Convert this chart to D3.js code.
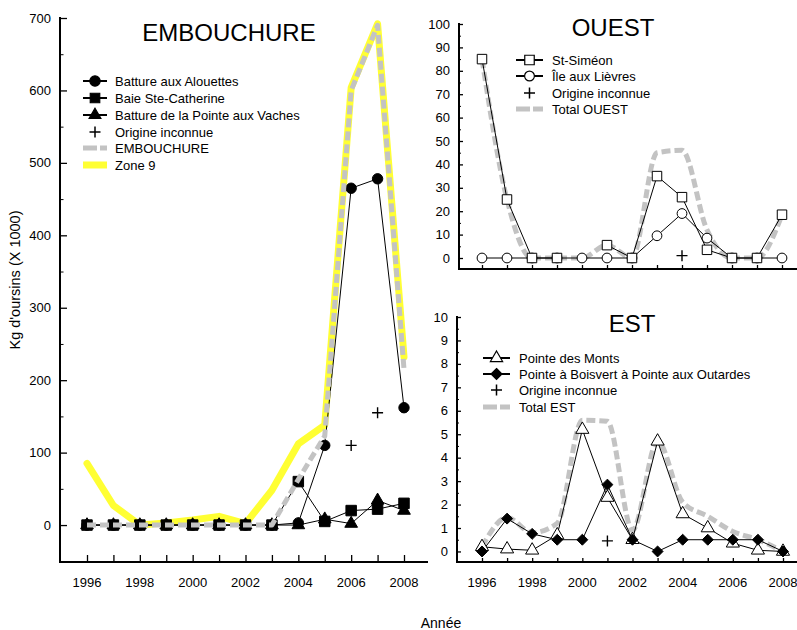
<!DOCTYPE html>
<html><head><meta charset="utf-8">
<script src="https://cdn.jsdelivr.net/npm/d3@7"></script>
<style>
body{margin:0;background:#fff;}
svg{font-family:"Liberation Sans",Arial,sans-serif;}
</style></head>
<body>
<svg id="c" width="797" height="630"></svg>
<script>
// ---------- DATA ----------
const years = [1996,1997,1998,1999,2000,2001,2002,2003,2004,2005,2006,2007,2008];
const yearTicks = [1996,1998,2000,2002,2004,2006,2008];

// EMBOUCHURE panel
const embTicks = [0,100,200,300,400,500,600,700];
const alouettes = [0,0,0,0,0,0,0,0,3,110,465,478,162];
const baieSteCatherine = [0,0,0,0,0,0,0,0,60,5,20,22,30];
const pointeAuxVaches = [0,0,0,0,0,0,0,0,0,8,2,34,20];
const embInconnue = [null,null,null,null,null,null,null,null,null,null,110,155,null];
const embTotal = [0,0,0,0,0,0,0,0,63,123,600,690,215];
const zone9 = [85,27,0,3,7,12,2,48,112,138,604,692,232];

// OUEST panel
const ouestTicks = [0,10,20,30,40,50,60,70,80,90,100];
const stSimeon = [85,25,0,0,null,5.5,0,35,26,3.5,0,0,18.5];
const ileAuxLievres = [0,0,0,0,0,0,0,9.5,19,8.5,0,0,0];
const ouestInconnue = [null,null,null,null,null,null,null,null,1,null,null,null,null];
const ouestTotal = [85,25,0,0,0,5.5,0,45,46,12,0,0,18.5];

// EST panel
const estTicks = [0,1,2,3,4,5,6,7,8,9,10];
const pointeDesMonts = [0.2,0.1,0.05,0.7,5.2,2.3,0.5,4.7,1.6,1.0,0.35,0.05,0];
const boisvertOutardes = [0,1.4,0.75,0.5,0.5,2.85,0.5,0,0.5,0.5,0.5,0.5,0];
const estInconnue = [null,null,null,null,null,0.45,null,null,null,null,null,null,null];
const estTotal = [0.2,1.45,0.8,1.2,5.6,5.55,0.9,4.7,2.1,1.5,0.85,0.5,0];

// ---------- DRAWING ----------
const svg = d3.select("#c");
const GRAY = "#c3c3c3", YEL = "#ffff33";

function zip(vals){ return years.map((y,i)=>({x:y,y:vals[i]})); }

function panel(opt){
  const g = svg.append("g");
  const x = d3.scaleLinear().domain([1996,2008]).range([opt.x0,opt.x1]);
  const y = d3.scaleLinear().domain(opt.yDom).range([opt.yBot,opt.yTop]);
  const ya = g.append("g").attr("transform",`translate(${opt.axX},0)`)
    .call(d3.axisRight(y).tickValues(opt.yTicks).tickSize(opt.yTick).tickFormat(""));
  ya.select(".domain").remove();
  ya.selectAll("line").attr("stroke","#000").attr("stroke-width",1.3);
  const ym = g.append("g").attr("transform",`translate(${opt.axX},0)`)
    .call(d3.axisRight(y).tickValues(opt.yMinor).tickSize(opt.yTick/2).tickFormat(""));
  ym.select(".domain").remove();
  ym.selectAll("line").attr("stroke","#000").attr("stroke-width",1);
  g.selectAll(".ylab").data(opt.yTicks).join("text")
    .attr("x",opt.axX-9).attr("y",d=>y(d)+4.5)
    .attr("text-anchor","end").attr("font-size",13).text(d=>d);
  g.append("line").attr("x1",opt.axX).attr("x2",opt.axX)
    .attr("y1",y(opt.yDom[1])-1).attr("y2",opt.yBot+1)
    .attr("stroke","#000").attr("stroke-width",2);
  const xa = g.append("g").attr("transform",`translate(0,${opt.yBot})`)
    .call(d3.axisTop(x).tickValues(years).tickSize(opt.xTick).tickFormat(""));
  xa.select(".domain").remove();
  xa.selectAll("line").attr("stroke","#000").attr("stroke-width",1.3);
  if(opt.xLabels){
    g.selectAll(".xlab").data(yearTicks).join("text")
      .attr("x",d=>x(d)).attr("y",opt.yBot+25)
      .attr("text-anchor","middle").attr("font-size",13).text(d=>d);
  }
  g.append("line").attr("x1",opt.axX-1).attr("x2",opt.xEnd)
    .attr("y1",opt.yBot).attr("y2",opt.yBot)
    .attr("stroke","#000").attr("stroke-width",2);
  g.append("text").attr("x",opt.titleX).attr("y",opt.titleY)
    .attr("text-anchor","middle").attr("font-size",24).text(opt.title);
  return {g,x,y};
}

function line(p, vals, o){
  const gen = d3.line().defined(d=>d.y!=null).x(d=>p.x(d.x)).y(d=>p.y(d.y));
  if(o.curve) gen.curve(o.curve);
  p.g.append("path").attr("d",gen(zip(vals))).attr("fill","none")
    .attr("stroke",o.color).attr("stroke-width",o.width)
    .attr("stroke-dasharray",o.dash||null)
    .attr("stroke-linejoin","round").attr("stroke-linecap",o.cap||"butt");
}

// square diamond (rotated square, equal width and height)
const squareDiamond = {
  draw(ctx, size){
    const r = Math.sqrt(size/2);
    ctx.moveTo(0,-r); ctx.lineTo(r,0); ctx.lineTo(0,r); ctx.lineTo(-r,0); ctx.closePath();
  }
};
const sym = {
  circle: d3.symbolCircle, square: d3.symbolSquare,
  triangle: d3.symbolTriangle, diamond: squareDiamond
};
function markers(p, vals, kind, size, fill){
  const data = zip(vals).filter(d=>d.y!=null);
  if(kind==="plus"){
    p.g.selectAll(null).data(data).join("path")
      .attr("d",d=>{const cx=p.x(d.x), cy=p.y(d.y); return `M${cx-5.5},${cy}H${cx+5.5}M${cx},${cy-5.5}V${cy+5.5}`;})
      .attr("stroke","#000").attr("stroke-width",1.4).attr("fill","none");
    return;
  }
  p.g.selectAll(null).data(data).join("path")
    .attr("d",d3.symbol(sym[kind]).size(size))
    .attr("transform",d=>`translate(${p.x(d.x)},${p.y(d.y)})`)
    .attr("fill",fill).attr("stroke","#000").attr("stroke-width",1);
}

function legend(g, x0, x1, tx, rows){
  rows.forEach(r=>{
    const ly = r.y;
    const cx = (x0+x1)/2;
    if(r.type==="series"){
      g.append("line").attr("x1",x0).attr("x2",x1).attr("y1",ly).attr("y2",ly)
        .attr("stroke","#000").attr("stroke-width",2);
      g.append("path").attr("d",d3.symbol(sym[r.kind]).size(r.size))
        .attr("transform",`translate(${cx},${ly})`)
        .attr("fill",r.fill).attr("stroke","#000").attr("stroke-width",1.2);
    } else if(r.type==="plus"){
      g.append("path").attr("d",`M${cx-5.5},${ly}H${cx+5.5}M${cx},${ly-5.5}V${ly+5.5}`)
        .attr("stroke","#000").attr("stroke-width",1.5);
    } else if(r.type==="dash"){
      g.append("line").attr("x1",x0).attr("x2",x1).attr("y1",ly).attr("y2",ly)
        .attr("stroke",GRAY).attr("stroke-width",5).attr("stroke-dasharray","14,3");
    } else if(r.type==="yellow"){
      g.append("line").attr("x1",x0).attr("x2",x1).attr("y1",ly).attr("y2",ly)
        .attr("stroke",YEL).attr("stroke-width",7);
    }
    g.append("text").attr("x",tx).attr("y",ly+4.5).attr("font-size",13).text(r.label);
  });
}

// ---- EMBOUCHURE ----
const pE = panel({x0:87,x1:404,yDom:[-51,700],yBot:562,yTop:18,axX:60,xEnd:428,
  yTicks:embTicks,yMinor:[50,150,250,350,450,550,650],yTick:7,xTick:7,xLabels:true,
  title:"EMBOUCHURE",titleX:229,titleY:41});
line(pE, zone9, {color:YEL,width:7,cap:"round"});
line(pE, baieSteCatherine, {color:"#000",width:1});
line(pE, pointeAuxVaches, {color:"#000",width:1});
line(pE, alouettes, {color:"#000",width:1});
markers(pE, baieSteCatherine, "square", 110, "#000");
markers(pE, pointeAuxVaches, "triangle", 70, "#000");
markers(pE, alouettes, "circle", 85, "#000");
markers(pE, embInconnue, "plus");
line(pE, embTotal, {color:GRAY,width:5,dash:"9,4"});
legend(pE.g, 83, 107, 115, [
  {type:"series",kind:"circle",size:85,fill:"#000",label:"Batture aux Alouettes",y:81},
  {type:"series",kind:"square",size:90,fill:"#000",label:"Baie Ste-Catherine",y:98},
  {type:"series",kind:"triangle",size:60,fill:"#000",label:"Batture de la Pointe aux Vaches",y:115},
  {type:"plus",label:"Origine inconnue",y:132},
  {type:"dash",label:"EMBOUCHURE",y:148},
  {type:"yellow",label:"Zone 9",y:165}
]);

// ---- OUEST ----
const pO = panel({x0:482,x1:782,yDom:[-4.7,100],yBot:269,yTop:24,axX:459,xEnd:797,
  yTicks:ouestTicks,yMinor:[5,15,25,35,45,55,65,75,85,95],yTick:4,xTick:4,xLabels:false,
  title:"OUEST",titleX:613,titleY:36});
line(pO, ouestTotal, {color:GRAY,width:5,dash:"9,4",curve:d3.curveMonotoneX});
line(pO, ileAuxLievres, {color:"#000",width:1});
line(pO, stSimeon, {color:"#000",width:1});
markers(pO, ileAuxLievres, "circle", 75, "#fff");
markers(pO, stSimeon, "square", 90, "#fff");
markers(pO, ouestInconnue, "plus");
legend(pO.g, 516, 543, 552, [
  {type:"series",kind:"square",size:90,fill:"#fff",label:"St-Siméon",y:60},
  {type:"series",kind:"circle",size:75,fill:"#fff",label:"Île aux Lièvres",y:76},
  {type:"plus",label:"Origine inconnue",y:93},
  {type:"dash",label:"Total OUEST",y:109}
]);

// ---- EST ----
const pS = panel({x0:482,x1:783,yDom:[-0.45,10],yBot:562,yTop:317,axX:457,xEnd:797,
  yTicks:estTicks,yMinor:[0.5,1.5,2.5,3.5,4.5,5.5,6.5,7.5,8.5,9.5],yTick:4,xTick:4,xLabels:true,
  title:"EST",titleX:632,titleY:332});
line(pS, estTotal, {color:GRAY,width:5,dash:"9,4",curve:d3.curveMonotoneX});
line(pS, pointeDesMonts, {color:"#000",width:1});
line(pS, boisvertOutardes, {color:"#000",width:1});
markers(pS, pointeDesMonts, "triangle", 75, "#fff");
markers(pS, boisvertOutardes, "diamond", 60, "#000");
markers(pS, estInconnue, "plus");
legend(pS.g, 483, 510, 519, [
  {type:"series",kind:"triangle",size:65,fill:"#fff",label:"Pointe des Monts",y:358},
  {type:"series",kind:"diamond",size:60,fill:"#000",label:"Pointe à Boisvert à Pointe aux Outardes",y:374},
  {type:"plus",label:"Origine inconnue",y:390},
  {type:"dash",label:"Total EST",y:407}
]);

// ---- axis titles ----
svg.append("text").attr("transform","translate(20,280) rotate(-90)")
  .attr("text-anchor","middle").attr("font-size",14.5).text("Kg d'oursins (X 1000)");
svg.append("text").attr("x",441).attr("y",628).attr("text-anchor","middle")
  .attr("font-size",14).text("Année");
</script>
</body></html>
